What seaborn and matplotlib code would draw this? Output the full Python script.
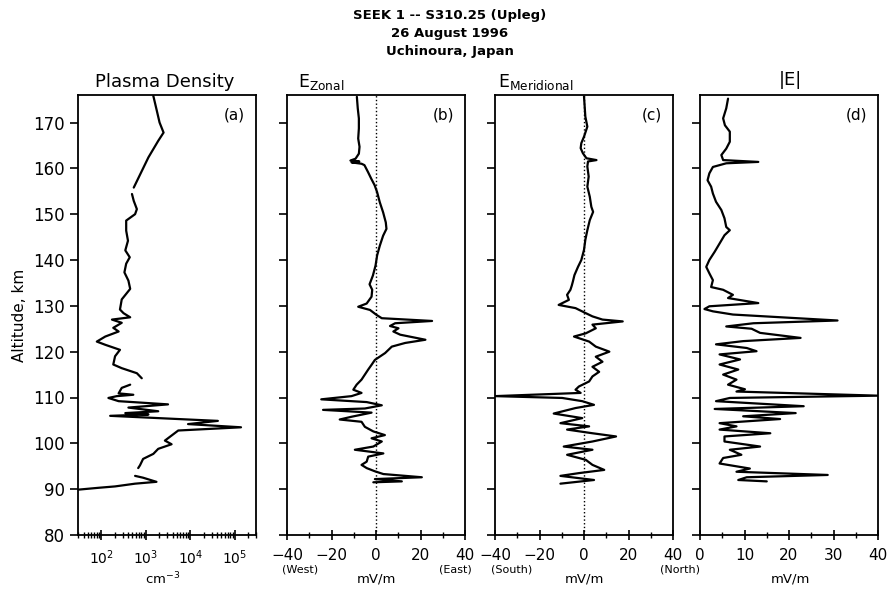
import numpy as np
import pandas as pd
import matplotlib
matplotlib.use("Agg")
import matplotlib.pyplot as plt
from matplotlib.ticker import MultipleLocator, LogLocator, NullFormatter
import seaborn as sns

# ---- Plasma density profile (altitude km, density cm^-3); NaN marks data dropouts
density_alt = [175.8, 172.5, 170.0, 167.8, 166.0, 164.2, 162.4, 160.2, 158.0, 155.8,
               155.2, 154.4, 152.9, 151.1, 150.0, 148.6, 146.4, 144.2, 142.1, 140.6,
               139.2, 137.3, 135.5, 133.7, 131.4, 129.2, 128.4, 127.5, 127.0, 126.3,
               125.2, 124.4, 123.3, 122.2, 121.5, 120.4, 119.0, 117.2, 116.4, 115.3,
               114.2, 113.5, 112.8, 112.1, 110.9, 110.6, 110.3, 109.9, 109.2, 108.5,
               107.8, 107.0, 106.6, 106.3, 106.0, 105.3, 104.9, 104.2, 103.5, 102.8,
               101.7, 100.6, 99.8, 98.8, 97.7, 96.6, 95.2, 94.6, 93.8, 92.9,
               92.5, 91.6, 91.2, 90.6, 90.3, 89.9]
density_log = [3.17, 3.25, 3.31, 3.40, 3.28, 3.17, 3.06, 2.95, 2.84, 2.73,
               np.nan, 2.69, 2.73, 2.80, 2.76, 2.56, 2.56, 2.60, 2.54, 2.64,
               2.56, 2.52, 2.61, 2.65, 2.46, 2.42, 2.50, 2.65, 2.24, 2.46,
               2.27, 2.39, 2.09, 1.90, 2.09, 2.42, 2.31, 2.27, 2.46, 2.80,
               2.91, np.nan, 2.65, 2.46, 2.39, 2.72, 2.35, 2.16, 2.39, 3.50,
               2.61, 3.28, 2.54, 3.06, 2.20, 3.73, 4.62, 3.95, 5.14, 3.73,
               3.58, 3.43, 3.58, 3.28, 3.17, 2.94, 2.87, 2.83, np.nan, 2.76,
               2.94, 3.24, 2.76, 2.31, 1.94, 1.49]
density = [10 ** v for v in density_log]

# ---- Zonal electric field (mV/m, positive east)
zonal_alt = [175.6, 173.1, 170.9, 168.7, 166.5, 164.7, 163.2, 162.1, 161.7, 161.5,
             161.3, 161.0, 160.7, 159.2, 157.7, 156.3, 154.8, 152.6, 150.4, 148.2,
             146.8, 145.3, 143.1, 141.0, 138.8, 136.6, 134.7, 133.5, 132.0, 130.5,
             129.8, 129.1, 128.0, 127.3, 126.7, 126.2, 125.6, 125.1, 124.4, 123.7,
             122.6, 121.9, 121.1, 120.4, 119.7, 118.2, 117.2, 116.1, 115.0, 113.9,
             112.8, 111.7, 111.0, 110.3, 109.6, 109.0, 108.3, 107.6, 107.3, 106.7,
             105.8, 105.2, 104.7, 103.6, 102.6, 101.8, 101.1, 100.4, 99.3, 98.6,
             97.8, 97.1, 96.0, 95.3, 94.6, 93.9, 93.3, 92.6, 92.2, 91.7, 91.5]
zonal = [-8.6, -8.2, -7.7, -7.7, -8.0, -7.4, -7.7, -9.2, -11.5, -7.5,
         -11.0, -6.5, -5.2, -3.6, -2.1, -0.6, 0.5, 1.7, 3.2, 4.4,
         4.7, 3.2, 1.7, 0.5, -0.2, -1.4, -2.9, -1.7, -2.0, -4.2,
         -8.0, -2.7, 0.3, 2.6, 25.2, 8.6, 6.3, 10.1, 7.8, 10.9,
         22.2, 13.1, 7.1, 5.6, 4.1, -0.5, -1.9, -3.5, -5.0, -6.5,
         -8.7, -10.2, -6.5, -11.0, -24.6, -4.2, 2.6, -5.0, -23.8, -2.0,
         -11.0, -16.3, -6.5, -5.0, -1.2, 4.0, -2.0, 2.6, -1.2, -9.5,
         3.3, -3.5, -4.2, -6.5, -4.2, -0.5, 3.3, 20.6, -0.5, 11.6, -1.2]

# ---- Meridional electric field (mV/m, positive north)
merid_alt = [175.7, 173.5, 171.3, 169.1, 166.9, 165.5, 164.4, 163.3, 162.2, 161.8,
             161.5, 160.4, 158.2, 156.0, 153.8, 151.6, 150.5, 148.7, 146.5, 144.4,
             142.2, 140.0, 138.5, 136.7, 135.3, 134.4, 133.5, 132.4, 131.3, 130.2,
             129.5, 128.4, 127.7, 127.0, 126.6, 125.9, 125.1, 124.0, 123.3, 122.2,
             121.1, 120.0, 118.9, 117.8, 116.7, 115.6, 114.6, 113.5, 112.4, 111.7,
             111.0, 110.3, 109.9, 109.2, 108.4, 107.7, 106.5, 105.5, 104.4, 103.7,
             103.0, 102.2, 101.5, 100.4, 99.3, 98.6, 97.5, 96.4, 95.3, 94.2,
             93.5, 92.9, 92.0, 91.2]
merid = [0.0, 0.3, 0.6, 1.5, 0.0, -1.2, -1.5, -0.5, 1.1, 5.6,
         1.8, 1.5, 2.1, 1.5, 2.6, 3.3, 4.1, 2.6, 1.5, 0.6,
         0.0, -1.2, -2.7, -4.3, -5.0, -5.5, -6.1, -7.6, -6.8, -11.4,
         -3.8, 0.8, 3.8, 8.3, 17.4, 3.8, 5.3, 0.8, -4.5, 2.3,
         5.3, 11.4, 5.3, 8.3, 3.8, 6.8, 3.8, 2.3, -2.3, -3.8,
         -1.5, -40.0, -9.8, -0.8, 4.5, -3.8, -13.6, -0.8, -10.6, 2.3,
         -7.6, 3.8, 14.4, 3.8, -9.1, 3.8, -7.6, 0.8, 3.8, 9.1,
         -2.3, -10.6, 4.5, -10.6]

# ---- Field magnitude |E| (mV/m)
emag_alt = [175.2, 173.1, 170.9, 169.4, 168.0, 165.8, 164.3, 162.9, 161.8, 161.4,
            161.1, 160.3, 158.9, 157.4, 156.0, 154.5, 152.7, 150.9, 149.1, 147.2,
            146.5, 145.4, 143.6, 141.8, 140.0, 138.5, 137.1, 135.6, 134.1, 133.5,
            132.4, 131.7, 130.6, 129.9, 129.3, 128.8, 128.1, 126.8, 126.2, 125.5,
            125.0, 124.1, 123.0, 122.3, 121.6, 120.8, 120.1, 119.4, 118.3, 117.2,
            116.1, 115.0, 113.9, 112.8, 111.8, 111.3, 110.4, 109.9, 109.2, 108.1,
            107.5, 106.6, 105.9, 105.3, 104.4, 103.7, 103.0, 102.2, 101.5, 100.4,
            99.3, 98.6, 97.5, 96.8, 95.6, 94.5, 93.8, 93.1, 92.6, 92.0, 91.7]
emag = [6.3, 5.9, 5.2, 5.6, 6.7, 6.7, 5.9, 4.8, 5.2, 13.1,
        5.9, 2.9, 2.1, 1.7, 2.5, 2.9, 3.6, 4.8, 5.5, 5.9,
        6.7, 5.5, 4.4, 3.3, 2.1, 1.4, 2.1, 2.9, 2.5, 5.2,
        7.4, 6.3, 13.1, 2.1, 1.0, 2.9, 7.4, 30.9, 12.0, 5.9,
        11.6, 13.5, 22.6, 9.7, 3.6, 10.5, 12.7, 4.4, 9.0, 4.4,
        8.6, 5.2, 8.2, 6.3, 10.1, 8.2, 40.0, 6.7, 3.6, 23.3,
        3.3, 21.5, 9.7, 18.0, 4.4, 8.2, 4.4, 15.8, 5.5, 5.5,
        13.5, 6.7, 9.3, 5.2, 4.4, 11.2, 8.2, 28.7, 10.5, 8.6, 15.0]

alt_ticks = [80, 90, 100, 110, 120, 130, 140, 150, 160, 170]

sns.set_style("ticks")
plt.rcParams["font.family"] = ["DejaVu Sans"]
plt.rcParams.update({
    "axes.linewidth": 1.3,
    "text.color": "black",
    "axes.labelcolor": "black",
    "xtick.color": "black",
    "ytick.color": "black",
    "axes.edgecolor": "black",
})

W, H = 889, 590
fig = plt.figure(figsize=(W / 100, H / 100), dpi=100)
fig.patch.set_facecolor("white")


def px_axes(left, right, top=95, bottom=535):
    return fig.add_axes([left / W, (H - bottom) / H, (right - left) / W, (bottom - top) / H])


def profile(ax, alt, val):
    df = pd.DataFrame({"alt": alt, "val": val})
    df["seg"] = df["val"].isna().cumsum()
    df = df.dropna()
    sns.lineplot(data=df, x="val", y="alt", units="seg", estimator=None,
                 sort=False, orient="y", color="black", lw=1.6, ax=ax, legend=False)


ax_a = px_axes(78, 256)
ax_b = px_axes(287, 465)
ax_c = px_axes(495, 673)
ax_d = px_axes(700, 878)
axes = [ax_a, ax_b, ax_c, ax_d]

profile(ax_a, density_alt, density)
profile(ax_b, zonal_alt, zonal)
profile(ax_c, merid_alt, merid)
profile(ax_d, emag_alt, emag)

ax_b.axvline(0, color="black", ls=":", lw=1.0)
ax_c.axvline(0, color="black", ls=":", lw=1.0)

ax_a.set_xscale("log")
ax_a.set_xlim(30, 3e5)
ax_a.xaxis.set_major_locator(LogLocator(base=10, numticks=10))
ax_a.xaxis.set_minor_locator(LogLocator(base=10, subs=range(2, 10), numticks=20))
ax_a.xaxis.set_minor_formatter(NullFormatter())

for ax in (ax_b, ax_c):
    ax.set_xlim(-40, 40)
    ax.xaxis.set_major_locator(MultipleLocator(20))
    ax.xaxis.set_minor_locator(MultipleLocator(10))
ax_d.set_xlim(0, 40)
ax_d.xaxis.set_major_locator(MultipleLocator(10))
ax_d.xaxis.set_minor_locator(MultipleLocator(5))

for i, ax in enumerate(axes):
    ax.set_ylim(80, 176)
    ax.set_yticks(alt_ticks)
    ax.set_xlabel("")
    ax.set_ylabel("")
    for s in ax.spines.values():
        s.set_visible(True)
        s.set_color("black")
    ax.tick_params(axis="y", direction="out", length=6, width=1.2, labelsize=12)
    ax.tick_params(axis="x", which="major", direction="inout", length=7, width=1.2,
                   labelsize=11, pad=6)
    ax.tick_params(axis="x", which="minor", direction="inout", length=4, width=1.0)
    if i > 0:
        ax.tick_params(axis="y", labelleft=False)

ax_a.tick_params(axis="x", which="major", labelsize=10)
ax_a.set_ylabel("Altitude, km", fontsize=11, labelpad=4)

# panel letters
for ax, letter in zip(axes, ["(a)", "(b)", "(c)", "(d)"]):
    ax.text(0.88, 0.955, letter, transform=ax.transAxes, ha="center", va="center",
            fontsize=11)


def ftext(x, y, s, **kw):
    fig.text(x / W, 1 - y / H, s, **kw)


# headings
ftext(450, 16, "SEEK 1 -- S310.25 (Upleg)", ha="center", va="center", fontsize=9.5,
      fontweight="bold")
ftext(450, 34, "26 August 1996", ha="center", va="center", fontsize=9.5, fontweight="bold")
ftext(450, 52, "Uchinoura, Japan", ha="center", va="center", fontsize=9.5, fontweight="bold")

ftext(165, 82, "Plasma Density", ha="center", va="center", fontsize=13)
ftext(298, 82, r"E$_{\mathregular{Zonal}}$", ha="left", va="center", fontsize=12.5)
ftext(498, 82, r"E$_{\mathregular{Meridional}}$", ha="left", va="center", fontsize=12.5)
ftext(790, 80, "|E|", ha="center", va="center", fontsize=13)

# axis units and directions
ftext(163, 579, r"cm$^{-3}$", ha="center", va="center", fontsize=9.5)
for xc in (376, 584, 790):
    ftext(xc, 579, "mV/m", ha="center", va="center", fontsize=9.5)
ftext(300, 569, "(West)", ha="center", va="center", fontsize=8)
ftext(455, 569, "(East)", ha="center", va="center", fontsize=8)
ftext(512, 569, "(South)", ha="center", va="center", fontsize=8)
ftext(680, 569, "(North)", ha="center", va="center", fontsize=8)

fig.savefig("out.png", dpi=100, facecolor="white")
